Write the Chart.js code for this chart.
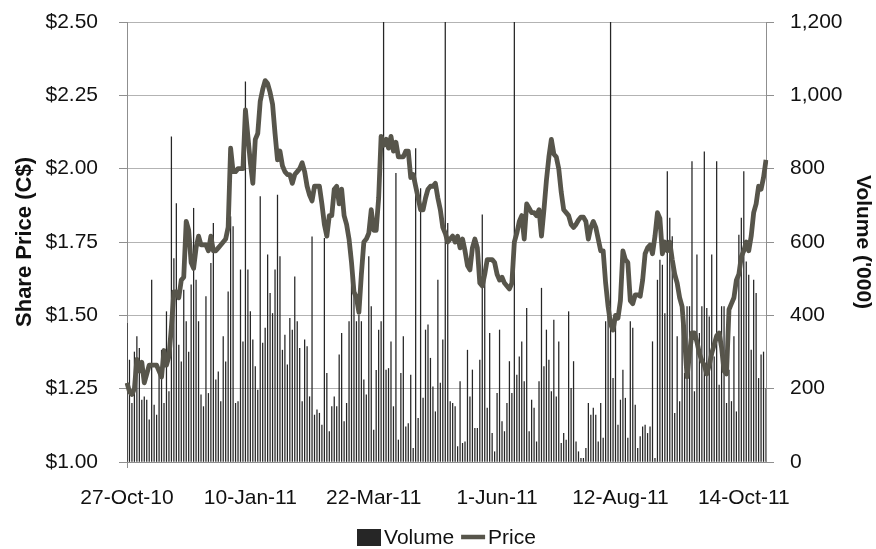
<!DOCTYPE html>
<html>
<head>
<meta charset="utf-8">
<script src="https://cdn.jsdelivr.net/npm/chart.js@4.4.1/dist/chart.umd.min.js"></script>
<style>
  html, body { margin: 0; padding: 0; background: #ffffff; }
  #wrap { width: 876px; height: 549px; position: relative; }
</style>
</head>
<body>
<div id="wrap"><canvas id="chart"></canvas></div>
<script>
// Date labels shown on the horizontal axis, one every 50 trading days
const tickLabels = ['27-Oct-10', '10-Jan-11', '22-Mar-11', '1-Jun-11', '12-Aug-11', '14-Oct-11'];
const tickEvery = 50;

// Series names
const seriesNames = { volume: 'Volume', price: 'Price' };

// Daily closing share price (C$)
const price = [
  1.27, 1.24, 1.23, 1.25, 1.35, 1.31, 1.34, 1.27, 1.30, 1.33,
  1.33, 1.33, 1.33, 1.31, 1.29, 1.38, 1.33, 1.36, 1.46, 1.58,
  1.58, 1.56, 1.62, 1.63, 1.82, 1.79, 1.68, 1.66, 1.73, 1.77,
  1.74, 1.74, 1.74, 1.72, 1.77, 1.72, 1.72, 1.73, 1.74, 1.75,
  1.76, 1.80, 2.07, 1.99, 1.99, 2.00, 2.00, 2.00, 2.20, 2.11,
  2.02, 1.95, 2.10, 2.12, 2.23, 2.27, 2.30, 2.29, 2.26, 2.22,
  2.12, 2.03, 2.06, 2.01, 1.99, 1.98, 1.98, 1.95, 1.98, 1.99,
  2.00, 2.02, 1.99, 1.94, 1.91, 1.89, 1.94, 1.94, 1.94, 1.88,
  1.81, 1.77, 1.84, 1.84, 1.93, 1.94, 1.88, 1.93, 1.84, 1.81,
  1.76, 1.68, 1.58, 1.56, 1.51, 1.64, 1.75, 1.76, 1.78, 1.86,
  1.79, 1.79, 1.90, 2.11, 2.08, 2.10, 2.07, 2.11, 2.06, 2.09,
  2.04, 2.04, 2.04, 2.06, 2.06, 1.97, 1.98, 1.94, 1.90, 1.86,
  1.86, 1.90, 1.93, 1.94, 1.94, 1.95, 1.90, 1.86, 1.80, 1.78,
  1.75, 1.76, 1.77, 1.75, 1.77, 1.73, 1.76, 1.72, 1.67, 1.655,
  1.73, 1.76, 1.73, 1.61, 1.60, 1.64, 1.69, 1.69, 1.69, 1.68,
  1.64, 1.62, 1.63, 1.61, 1.60, 1.59, 1.61, 1.75, 1.78, 1.82,
  1.84, 1.76, 1.88, 1.865, 1.85, 1.85, 1.84, 1.86, 1.77, 1.86,
  1.96, 2.04, 2.10, 2.05, 2.04, 2.00, 1.92, 1.86, 1.85, 1.84,
  1.81, 1.80, 1.81, 1.825, 1.835, 1.835, 1.82, 1.76, 1.80, 1.82,
  1.80, 1.76, 1.72, 1.72, 1.61, 1.53, 1.47, 1.45, 1.50, 1.49,
  1.55, 1.72, 1.69, 1.68, 1.55, 1.54, 1.57, 1.57, 1.565, 1.62,
  1.71, 1.73, 1.74, 1.71, 1.77, 1.85, 1.83, 1.71, 1.75, 1.72,
  1.75, 1.69, 1.64, 1.61, 1.56, 1.53, 1.42, 1.29, 1.37, 1.44,
  1.44, 1.41, 1.37, 1.345, 1.33, 1.30, 1.33, 1.37, 1.40, 1.43,
  1.44, 1.39, 1.31, 1.30, 1.52, 1.54, 1.56, 1.62, 1.64, 1.70,
  1.72, 1.75, 1.72, 1.77, 1.85, 1.88, 1.94, 1.93, 1.97, 2.03
];

// Daily traded volume ('000 shares)
const volume = [
  378, 278, 160, 300, 342, 310, 169, 178, 169, 115,
  496, 155, 128, 242, 305, 160, 410, 192, 887, 555,
  705, 319, 273, 469, 383, 300, 483, 692, 496, 383,
  183, 151, 451, 187, 542, 651, 224, 246, 165, 342,
  273, 464, 669, 642, 160, 165, 524, 328, 1037, 524,
  410, 333, 260, 196, 724, 324, 365, 565, 460, 405,
  524, 728, 560, 305, 346, 265, 392, 360, 505, 383,
  310, 165, 333, 315, 178, 614, 128, 142, 133, 101,
  610, 242, 83, 151, 178, 151, 292, 351, 110, 160,
  383, 574, 505, 383, 400, 383, 224, 183, 560, 424,
  87, 250, 360, 383, 1400, 251, 255, 328, 151, 787,
  60, 242, 342, 96, 105, 237, 37, 855, 119, 746,
  174, 360, 374, 283, 205, 137, 496, 215, 333, 1300,
  651, 165, 160, 151, 42, 219, 51, 55, 305, 178,
  251, 92, 92, 278, 674, 496, 147, 351, 78, 28,
  187, 360, 110, 83, 160, 274, 187, 1400, 237, 287,
  328, 219, 419, 83, 169, 147, 55, 219, 474, 260,
  360, 278, 192, 387, 178, 328, 51, 78, 60, 410,
  201, 274, 55, 28, 10, 10, 37, 160, 128, 147,
  128, 55, 160, 65, 383, 451, 1400, 228, 383, 101,
  169, 251, 174, 65, 383, 365, 155, 37, 69, 96,
  101, 78, 96, 328, 10, 496, 551, 537, 405, 792,
  665, 615, 133, 342, 165, 424, 242, 424, 424, 819,
  192, 565, 351, 424, 846, 419, 396, 565, 287, 819,
  210, 424, 424, 160, 251, 165, 342, 137, 619, 665,
  792, 546, 510, 305, 496, 460, 228, 292, 300, 200
];

const categories = price.map((_, i) => (i % tickEvery === 0 ? tickLabels[i / tickEvery] : ''));

const AXIS_GREY = '#8f8f8f';
const GRID_GREY = '#b3b3b3';
const TEXT = '#111111';
const PRICE_COLOUR = '#57554b';
const VOLUME_COLOUR = '#262626';
const FONT_FAMILY = "'Liberation Sans', Arial, sans-serif";

Chart.defaults.font.family = FONT_FAMILY;
Chart.defaults.font.size = 21;
Chart.defaults.color = TEXT;

// Fix the vertical axes' widths and drop their extra end padding so the plot area spans 22..462
function fitVertical(width) {
  return function (scale) {
    scale.width = width;
    scale.paddingTop = 0;
    scale.paddingBottom = 0;
  };
}

// Compact legend under the axis: filled box for volume, short thick line for price
const compactLegend = {
  id: 'compactLegend',
  afterDraw(chart) {
    const { ctx, chartArea } = chart;
    const items = [
      { text: seriesNames.volume, kind: 'box', colour: VOLUME_COLOUR },
      { text: seriesNames.price, kind: 'line', colour: PRICE_COLOUR }
    ];
    const swatchW = 24, swatchH = 17, textGap = 3, itemGap = 7;
    const cy = 537;
    ctx.save();
    ctx.font = '21px ' + FONT_FAMILY;
    ctx.textBaseline = 'middle';
    ctx.textAlign = 'left';
    const widths = items.map((it) => swatchW + textGap + ctx.measureText(it.text).width);
    const total = widths.reduce((a, b) => a + b, 0) + itemGap * (items.length - 1);
    let x = (chartArea.left + chartArea.right) / 2 - total / 2;
    items.forEach((it, i) => {
      if (it.kind === 'box') {
        ctx.fillStyle = it.colour;
        ctx.fillRect(Math.round(x), Math.round(cy - swatchH / 2), swatchW, swatchH);
      } else {
        ctx.strokeStyle = it.colour;
        ctx.lineWidth = 4.5;
        ctx.beginPath();
        ctx.moveTo(x, cy);
        ctx.lineTo(x + swatchW, cy);
        ctx.stroke();
      }
      ctx.fillStyle = TEXT;
      ctx.fillText(it.text, x + swatchW + textGap, cy + 1);
      x += widths[i] + itemGap;
    });
    ctx.restore();
  }
};

new Chart(document.getElementById('chart'), {
  type: 'bar',
  data: {
    labels: categories,
    datasets: [
      {
        type: 'line',
        label: seriesNames.price,
        data: price,
        yAxisID: 'y',
        borderColor: PRICE_COLOUR,
        backgroundColor: PRICE_COLOUR,
        borderWidth: 4.8,
        pointRadius: 0,
        tension: 0,
        borderJoinStyle: 'round',
        order: 0
      },
      {
        type: 'bar',
        label: seriesNames.volume,
        data: volume,
        yAxisID: 'y1',
        backgroundColor: VOLUME_COLOUR,
        borderWidth: 0,
        barThickness: 0.6,
        order: 1
      }
    ]
  },
  plugins: [compactLegend],
  options: {
    responsive: true,
    maintainAspectRatio: false,
    animation: false,
    layout: { padding: { top: 22, left: 0, right: 0, bottom: 25 } },
    plugins: {
      tooltip: { enabled: false },
      legend: { display: false }
    },
    scales: {
      x: {
        type: 'category',
        offset: false,
        afterFit(scale) { scale.height = 62; },
        grid: {
          offset: false,
          drawOnChartArea: false,
          drawTicks: true,
          tickLength: 6,
          color: (ctx) => (ctx.index % tickEvery === 0 ? AXIS_GREY : 'rgba(0,0,0,0)')
        },
        border: { display: true, color: AXIS_GREY, width: 1 },
        ticks: {
          autoSkip: false,
          maxRotation: 0,
          minRotation: 0,
          padding: 18,
          font: { size: 21 },
          callback(value, index) {
            return index % tickEvery === 0 ? tickLabels[index / tickEvery] : null;
          }
        }
      },
      y: {
        position: 'left',
        min: 1,
        max: 2.5,
        afterFit: fitVertical(127),
        afterBuildTicks(scale) {
          scale.ticks = [1, 1.25, 1.5, 1.75, 2, 2.25, 2.5].map((v) => ({ value: v }));
        },
        grid: { color: GRID_GREY, lineWidth: 1, tickLength: 8, tickColor: AXIS_GREY },
        border: { display: true, color: AXIS_GREY, width: 1 },
        ticks: {
          padding: 21,
          font: { size: 21 },
          callback: (v) => '$' + Number(v).toFixed(2)
        },
        title: {
          display: true,
          text: 'Share Price (C$)',
          font: { size: 22, weight: 'bold' },
          color: TEXT,
          padding: { top: 12, bottom: 0 }
        }
      },
      y1: {
        position: 'right',
        min: 0,
        max: 1200,
        afterFit: fitVertical(110),
        afterBuildTicks(scale) {
          scale.ticks = [0, 200, 400, 600, 800, 1000, 1200].map((v) => ({ value: v }));
        },
        grid: { drawOnChartArea: false, tickLength: 8, color: AXIS_GREY },
        border: { display: true, color: AXIS_GREY, width: 1 },
        ticks: {
          padding: 16,
          font: { size: 21 },
          callback: (v) => Number(v).toLocaleString('en-US')
        },
        title: {
          display: true,
          text: "Volume ('000)",
          font: { size: 21, weight: 'bold' },
          color: TEXT,
          padding: { top: 1, bottom: 0 }
        }
      }
    }
  }
});
</script>
</body>
</html>
